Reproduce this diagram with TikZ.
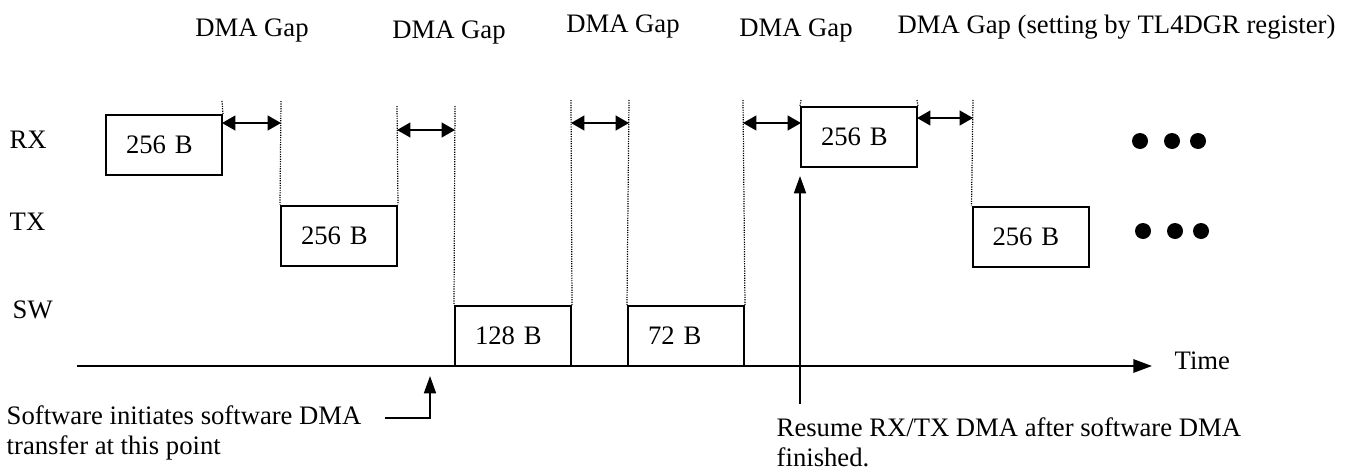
\documentclass[tikz,border=0pt]{standalone}
\usepackage{fontspec}
\setmainfont{Liberation Serif}
\usetikzlibrary{arrows.meta}
\begin{document}
\begin{tikzpicture}[
  x=0.75pt, y=-0.75pt,
  every node/.style={font=\fontsize{20}{22.5}\selectfont},
  blk/.style={draw, line width=1.5pt, minimum height=45pt, text width=57pt, inner xsep=15pt, align=left},
  gap/.style={line width=0.9pt, dash pattern=on 0.9pt off 0.9pt},
  gaparrow/.style={{Triangle[length=10pt,width=11pt]}-{Triangle[length=10pt,width=11pt]}, line width=1.6pt},
  up/.style={-{Triangle[length=13pt,width=9pt]}, line width=1.3pt}
]
\useasboundingbox (0,0) rectangle (1346,475);

% rows
\node[anchor=west] (rx) at (5,140) {RX};
\node[anchor=west] (tx) at (5,222) {TX};
\node[anchor=west] (sw) at (8,310) {SW};

% transfers
\node[blk] (rx1) at (164,145) {256 B};
\node[blk] (tx1) at (339,235.5) {256 B};
\node[blk] (sw1) at (513,336) {128 B};
\node[blk] (sw2) at (686,336) {72 B};
\node[blk] (rx2) at (859,137) {256 B};
\node[blk] (tx2) at (1030.5,237) {256 B};

% dotted marks
\coordinate (g1l) at (222,101);
\coordinate (g1r) at (281,101);
\coordinate (g2l) at (397,106);
\coordinate (g2r) at (455,106);
\coordinate (g3l) at (571,100);
\coordinate (g3r) at (629,100);
\coordinate (g4l) at (743,100);
\coordinate (g4r) at (801,100);
\coordinate (g5l) at (917,100);
\coordinate (g5r) at (973,100);
\draw[gap] (g1l) -- (rx1.north east);
\draw[gap] (g1r) -- (tx1.north west);
\draw[gap] (g2l) -- (tx1.north east);
\draw[gap] (g2r) -- (sw1.north west);
\draw[gap] (g3l) -- (sw1.north east);
\draw[gap] (g3r) -- (sw2.north west);
\draw[gap] (g4l) -- (sw2.north east);
\draw[gap] (g4r) -- (rx2.north west);
\draw[gap] (g5l) -- (rx2.north east);
\draw[gap] (g5r) -- (tx2.north west);

% gaps
\draw[gaparrow] (g1l |- 0,123) -- (g1r |- 0,123);
\draw[gaparrow] (g2l |- 0,130) -- (g2r |- 0,130);
\draw[gaparrow] (g3l |- 0,123) -- (g3r |- 0,123);
\draw[gaparrow] (g4l |- 0,123) -- (g4r |- 0,123);
\draw[gaparrow] (g5l |- 0,118) -- (g5r |- 0,118);
\node (lab1) at (252,31) {DMA Gap};
\node (lab2) at (449,33) {DMA Gap};
\node (lab3) at (623,27) {DMA Gap};
\node (lab4) at (796,31) {DMA Gap};
\node[anchor=west] (lab5) at (893,27) {DMA Gap (setting by TL4DGR register)};

% more
\foreach \xx in {1140,1172,1198} {
  \fill (\xx,141) circle (6pt);
  \fill (\xx+3,231) circle (6pt);
}

% time axis
\coordinate (t0) at (77,366);
\coordinate (t1) at (1152,366);
\draw[-{Triangle[length=14pt,width=10pt]}, line width=1.5pt] (t0) -- (t1);
\node[anchor=west] (time) at (1170,361) {Time};

% notes
\node[anchor=west, align=left] (start) at (2,433) {Software initiates software DMA\\transfer at this point};
\coordinate (sa) at (385,418);
\coordinate (sb) at (430,418);
\draw[up] (sa) -- (sb) -- (430,376);
\node[anchor=west, align=left] (resume) at (772,442) {Resume RX/TX DMA after software DMA\\finished.};
\coordinate (ra) at (800,404);
\draw[up] (ra) -- (800,176);
\end{tikzpicture}
\end{document}
